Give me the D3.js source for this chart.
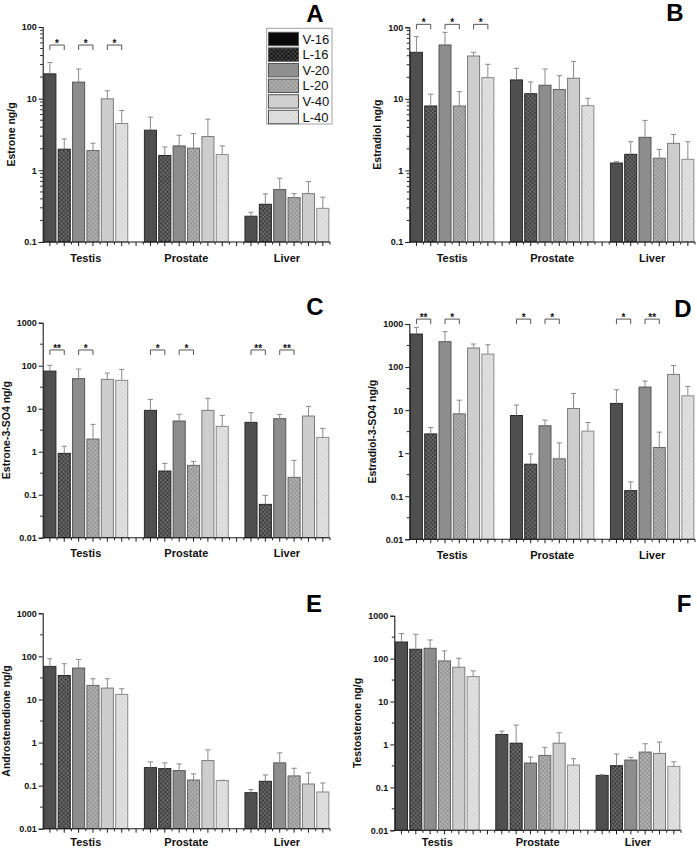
<!DOCTYPE html>
<html><head><meta charset="utf-8">
<script src="https://cdn.jsdelivr.net/npm/d3@7"></script>
<style>html,body{margin:0;padding:0;background:#fff}svg{display:block}</style>
</head><body><div id="chart"></div>
<script>
// ---------------- DATA ----------------
const categories = ["Testis", "Prostate", "Liver"];
const series = ["V-16", "L-16", "V-20", "L-20", "V-40", "L-40"];

// rows = categories, columns = series
const estroneMean = [[22.2, 1.97, 17.0, 1.89, 9.95, 4.5], [3.63, 1.61, 2.19, 2.04, 2.96, 1.66], [0.229, 0.336, 0.538, 0.416, 0.473, 0.295]];
const estroneSD   = [[9.8, 0.78, 8.9, 0.5, 2.95, 2.34], [1.89, 0.51, 0.9, 1.22, 2.22, 0.53], [0.031, 0.133, 0.238, 0.057, 0.224, 0.126]];

const estradiolMean = [[44.7, 7.95, 56.6, 7.95, 39.7, 19.8], [18.4, 11.8, 15.5, 13.5, 19.4, 8.04], [1.27, 1.68, 2.9, 1.48, 2.39, 1.43]];
const estradiolSD   = [[29.3, 3.65, 28.4, 4.65, 5.0, 10.6], [8.3, 5.4, 10.6, 7.6, 14.0, 2.16], [0.06, 0.84, 2.1, 0.49, 0.8, 1.09]];

const estroneSO4Mean = [[75, 0.914, 49.9, 1.97, 48.1, 45.6], [9.15, 0.355, 5.17, 0.481, 9.15, 3.88], [4.81, 0.0596, 5.85, 0.253, 6.75, 2.15]];
const estroneSO4SD   = [[27, 0.42, 33.7, 2.35, 19.4, 36.6], [7.35, 0.18, 2.21, 0.115, 8.25, 3.12], [3.26, 0.0368, 1.53, 0.376, 4.55, 1.34]];

const estradiolSO4Mean = [[585, 2.8, 388, 8.2, 277, 200], [7.5, 0.555, 4.32, 0.74, 10.9, 3.25], [14.3, 0.135, 34.3, 1.355, 67.5, 21.5]];
const estradiolSO4SD   = [[251, 1.15, 275, 8.8, 66, 130], [5.6, 0.405, 1.53, 1.0, 13.5, 1.92], [15.4, 0.08, 12.9, 1.725, 41.5, 14]];

const androMean = [[58.5, 36, 53.5, 21.2, 18.4, 13.1], [0.262, 0.248, 0.223, 0.135, 0.381, 0.131], [0.0687, 0.126, 0.337, 0.168, 0.109, 0.0713]];
const androSD   = [[29.5, 31.5, 31.5, 9.1, 11.9, 4.6], [0.093, 0.089, 0.096, 0.052, 0.294, 0.002], [0.012, 0.051, 0.238, 0.085, 0.088, 0.0437]];

const testoMean = [[244, 165, 174, 88.5, 63, 38.2], [1.71, 1.07, 0.369, 0.556, 1.07, 0.331], [0.19, 0.32, 0.433, 0.665, 0.619, 0.308]];
const testoSD   = [[138, 204, 98, 62.5, 39, 13.6], [0.34, 1.75, 0.14, 0.3, 0.8, 0.134], [0.007, 0.278, 0.067, 0.375, 0.52, 0.088]];

// significance brackets: [category, seriesA, seriesB, label]
const estroneSig = [["Testis","V-16","L-16","*"],["Testis","V-20","L-20","*"],["Testis","V-40","L-40","*"]];
const estradiolSig = [["Testis","V-16","L-16","*"],["Testis","V-20","L-20","*"],["Testis","V-40","L-40","*"]];
const estroneSO4Sig = [["Testis","V-16","L-16","**"],["Testis","V-20","L-20","*"],["Prostate","V-16","L-16","*"],["Prostate","V-20","L-20","*"],["Liver","V-16","L-16","**"],["Liver","V-20","L-20","**"]];
const estradiolSO4Sig = [["Testis","V-16","L-16","**"],["Testis","V-20","L-20","*"],["Prostate","V-16","L-16","*"],["Prostate","V-20","L-20","*"],["Liver","V-16","L-16","*"],["Liver","V-20","L-20","**"]];

const tickLabels3 = ["0.1", "1", "10", "100"];
const tickLabels5 = ["0.01", "0.1", "1", "10", "100", "1000"];

// ---------------- STYLE ----------------
const FONT = "'Liberation Sans', Arial, sans-serif";
const styles = {
  "V-16": {fill: "#4f4f4f", stroke: "#2a2a2a", legend: "#0a0a0a"},
  "L-16": {fill: "url(#hatch16)", stroke: "#222", legend: "url(#hatch16L)"},
  "V-20": {fill: "#8d8d8d", stroke: "#555", legend: "#8f8f8f"},
  "L-20": {fill: "url(#hatch20)", stroke: "#666", legend: "url(#hatch20)"},
  "V-40": {fill: "#cdcdcd", stroke: "#7a7a7a", legend: "#cfcfcf"},
  "L-40": {fill: "url(#hatch40)", stroke: "#8a8a8a", legend: "url(#hatch40)"}
};

const svg = d3.select("#chart").append("svg").attr("width", 697).attr("height", 849);
const defs = svg.append("defs");
function hatch(id, base, line) {
  const p = defs.append("pattern").attr("id", id).attr("patternUnits", "userSpaceOnUse")
    .attr("width", 3).attr("height", 3).attr("patternTransform", "rotate(45)");
  p.append("rect").attr("width", 3).attr("height", 3).attr("fill", base);
  p.append("line").attr("x1", 0).attr("y1", 0).attr("x2", 3).attr("y2", 0).attr("stroke", line).attr("stroke-width", 0.8);
  p.append("line").attr("x1", 0).attr("y1", 0).attr("x2", 0).attr("y2", 3).attr("stroke", line).attr("stroke-width", 0.8);
}
hatch("hatch16", "#3d3d3d", "#9a9a9a");
hatch("hatch16L", "#111", "#777");
hatch("hatch20", "#949494", "#d2d2d2");
hatch("hatch40", "#d6d6d6", "#f4f4f4");

const panels = [
  {letter: "A", title: "Estrone ng/g", mean: estroneMean, sd: estroneSD, labels: tickLabels3, domain: [0.1, 100], sig: estroneSig, sigLevel: 56,
   left: 42.7, right: 330, top: 27, bottom: 242, lx: 315, ly: 22, legend: true},
  {letter: "B", title: "Estradiol ng/g", mean: estradiolMean, sd: estradiolSD, labels: tickLabels3, domain: [0.1, 100], sig: estradiolSig, sigLevel: 110,
   left: 409.3, right: 695, top: 27.3, bottom: 242, lx: 675, ly: 21},
  {letter: "C", title: "Estrone-3-SO4 ng/g", mean: estroneSO4Mean, sd: estroneSO4SD, labels: tickLabels5, domain: [0.01, 1000], sig: estroneSO4Sig, sigLevel: 232,
   left: 42.7, right: 330, top: 322.7, bottom: 537.7, lx: 315, ly: 315},
  {letter: "D", title: "Estradiol-3-SO4 ng/g", mean: estradiolSO4Mean, sd: estradiolSO4SD, labels: tickLabels5, domain: [0.01, 1000], sig: estradiolSO4Sig, sigLevel: 1300,
   left: 409.3, right: 695, top: 324, bottom: 539.3, lx: 683, ly: 317},
  {letter: "E", title: "Androstenedione ng/g", mean: androMean, sd: androSD, labels: tickLabels5, domain: [0.01, 1000], sig: [], sigLevel: 1,
   left: 42.7, right: 330, top: 613.3, bottom: 828.7, lx: 314, ly: 612},
  {letter: "F", title: "Testosterone ng/g", mean: testoMean, sd: testoSD, labels: tickLabels5, domain: [0.01, 1000], sig: [], sigLevel: 1,
   left: 394.3, right: 681, top: 615.7, bottom: 830.3, lx: 684, ly: 612}
];

panels.forEach(P => {
  const g = svg.append("g");
  const x0 = d3.scaleBand().domain(categories).range([P.left, P.right]).paddingInner(1 / 7).paddingOuter(0);
  const x1 = d3.scaleBand().domain(series).range([0, x0.bandwidth()]).paddingInner(0.16).paddingOuter(0.08);
  const y = d3.scaleLog().domain(P.domain).range([P.bottom, P.top]);
  const unit = x1.step();

  // bars
  categories.forEach((c, ci) => {
    series.forEach((s, si) => {
      const v = P.mean[ci][si], e = P.sd[ci][si];
      const bx = x0(c) + x1(s), bw = x1.bandwidth(), cx = bx + bw / 2;
      g.append("rect").attr("x", bx).attr("y", y(v)).attr("width", bw).attr("height", P.bottom - y(v))
        .attr("fill", styles[s].fill).attr("stroke", styles[s].stroke).attr("stroke-width", 1);
      const yt = y(v + e);
      g.append("line").attr("x1", cx).attr("x2", cx).attr("y1", y(v)).attr("y2", yt).attr("stroke", "#8a8a8a").attr("stroke-width", 1);
      g.append("line").attr("x1", cx - 2.6).attr("x2", cx + 2.6).attr("y1", yt).attr("y2", yt).attr("stroke", "#8a8a8a").attr("stroke-width", 1);
    });
  });

  // y axis
  const [lo, hi] = P.domain.map(Math.log10);
  const decades = d3.range(lo, hi + 1).map(e => Math.pow(10, e));
  const yAxis = d3.axisLeft(y).tickValues(decades).tickFormat((d, i) => P.labels[i]).tickSize(4).tickPadding(2);
  const ya = g.append("g").attr("transform", `translate(${P.left},0)`).call(yAxis);
  ya.select(".domain").attr("stroke", "#1a1a1a").attr("stroke-width", 1.1);
  ya.selectAll(".tick line").attr("stroke", "#1a1a1a");
  ya.selectAll("text").attr("font-family", FONT).attr("font-weight", "bold").attr("font-size", 9).attr("fill", "#111");
  let minors = [];
  if (hi - lo <= 3) {
    decades.slice(0, -1).forEach(d => { for (let k = 2; k <= 9; k++) minors.push(d * k); });
  } else {
    d3.range(lo, hi).forEach(e => minors.push(Math.pow(10, e + 0.5)));
  }
  minors.forEach(m => g.append("line").attr("x1", P.left - 2.5).attr("x2", P.left).attr("y1", y(m)).attr("y2", y(m)).attr("stroke", "#1a1a1a"));

  // x axis
  g.append("line").attr("x1", P.left).attr("x2", P.right).attr("y1", P.bottom).attr("y2", P.bottom).attr("stroke", "#1a1a1a").attr("stroke-width", 1.1);
  const nUnits = Math.round((P.right - P.left) / unit);
  for (let k = 0; k < nUnits; k++) {
    const tx = P.left + (k + 0.5) * unit;
    g.append("line").attr("x1", tx).attr("x2", tx).attr("y1", P.bottom).attr("y2", P.bottom + 4).attr("stroke", "#1a1a1a");
    const mx = P.left + (k + 1) * unit;
    if (mx <= P.right + 0.5)
      g.append("line").attr("x1", mx).attr("x2", mx).attr("y1", P.bottom).attr("y2", P.bottom + 2.5).attr("stroke", "#1a1a1a");
  }
  const labelY = Math.min(P.bottom + 19.5, 845.5);
  categories.forEach(c => {
    g.append("text").attr("x", x0(c) + x0.bandwidth() / 2).attr("y", labelY).attr("text-anchor", "middle")
      .attr("font-family", FONT).attr("font-weight", "bold").attr("font-size", 11).attr("fill", "#111").text(c);
  });

  // y title
  const tx = P.left - (hi - lo <= 3 ? 32 : 37);
  g.append("text").attr("transform", `translate(${tx + 3.8},${(P.top + P.bottom) / 2}) rotate(-90)`).attr("text-anchor", "middle")
    .attr("font-family", FONT).attr("font-weight", "bold").attr("font-size", 10.5).attr("fill", "#111").text(P.title);

  // panel letter
  g.append("text").attr("x", P.lx).attr("y", P.ly).attr("text-anchor", "middle").attr("font-family", FONT)
    .attr("font-weight", "bold").attr("font-size", 24).attr("fill", "#000").text(P.letter);

  // significance brackets
  const by = y(P.sigLevel);
  P.sig.forEach(([c, a, b, lab]) => {
    const xa = x0(c) + x1(a) + x1.bandwidth() / 2, xb = x0(c) + x1(b) + x1.bandwidth() / 2;
    g.append("path").attr("d", `M${xa},${by + 5}V${by}H${xb}V${by + 5}`).attr("fill", "none").attr("stroke", "#555").attr("stroke-width", 1);
    g.append("text").attr("x", (xa + xb) / 2).attr("y", by + 2).attr("text-anchor", "middle").attr("font-family", FONT)
      .attr("font-weight", "bold").attr("font-size", 10).attr("fill", "#111").text(lab);
  });

  // legend
  if (P.legend) {
    const lg = g.append("g");
    lg.append("rect").attr("x", 266.7).attr("y", 28.3).attr("width", 65.3).attr("height", 95.7).attr("fill", "#fff").attr("stroke", "#a0a0a0");
    series.forEach((s, i) => {
      const yy = 32.3 + i * 15.6;
      lg.append("rect").attr("x", 268.5).attr("y", yy).attr("width", 30).attr("height", 13.4)
        .attr("fill", styles[s].legend).attr("stroke", "#555");
      lg.append("text").attr("x", 302.5).attr("y", yy + 11.3).attr("font-family", FONT).attr("font-size", 13).attr("fill", "#111").text(s);
    });
  }
});
</script></body></html>
